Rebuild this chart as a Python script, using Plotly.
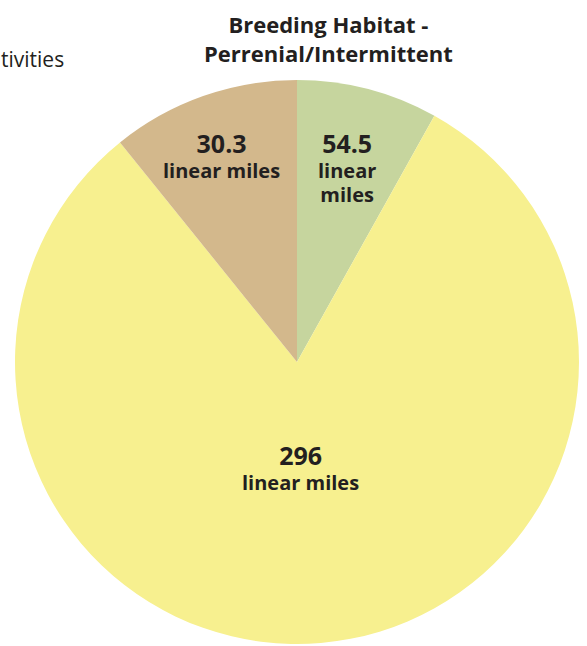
import plotly.graph_objects as go

# Slice categories (clockwise from 12 o'clock)
categories = ["Green", "Yellow", "Tan"]
# Slice shares as drawn in the picture (percent of circle, estimated from angles)
slice_shares = [8.1, 81.1, 10.8]
# Values printed on the slices
label_values = ["54.5", "296", "30.3"]
label_units = ["linear<br>miles", "linear miles", "linear miles"]
colors = ["#C6D59E", "#F7F08F", "#D3B88C"]

W, H = 587, 646
FONT = "Open Sans"

fig = go.Figure(go.Pie(
    labels=categories,
    values=slice_shares,
    sort=False,
    direction="clockwise",
    rotation=0,
    marker=dict(colors=colors, line=dict(width=0)),
    textinfo="none",
    hoverinfo="skip",
    showlegend=False,
    domain=dict(x=[15 / W, 579 / W], y=[2 / H, 566 / H]),
))

def px(x):
    return x / W

def py(y):
    return 1 - y / H

# label block positions (pixel coords of block centre)
pos = [(347, 167), (300, 467), (221, 155)]
ann = []
for (x, y), v, u in zip(pos, label_values, label_units):
    unit_html = "<br>".join(f"<span style='font-size:20px'><b>{p}</b></span>" for p in u.split("<br>"))
    ann.append(dict(x=px(x), y=py(y), xref="paper", yref="paper",
                    text=f"<span style='font-size:25px'><b>{v}</b></span><br>{unit_html}",
                    showarrow=False, font=dict(family=FONT, size=19, color="#231F20"),
                    xanchor="center", yanchor="middle"))

ann.append(dict(x=px(328), y=py(38), xref="paper", yref="paper",
                text="<b>Breeding Habitat -</b><br><b>Perrenial/Intermittent</b>",
                showarrow=False, font=dict(family=FONT, size=22, color="#231F20"),
                xanchor="center", yanchor="middle"))
ann.append(dict(x=0, y=py(59), xref="paper", yref="paper", text="tivities",
                showarrow=False, font=dict(family=FONT, size=21, color="#231F20"),
                xanchor="left", yanchor="middle", borderpad=0))

fig.update_layout(width=W, height=H, margin=dict(l=0, r=0, t=0, b=0),
                  paper_bgcolor="white", plot_bgcolor="white", annotations=ann)
fig.write_html("out.html", config={"displayModeBar": False},
               post_script="document.body.style.margin='0';")
